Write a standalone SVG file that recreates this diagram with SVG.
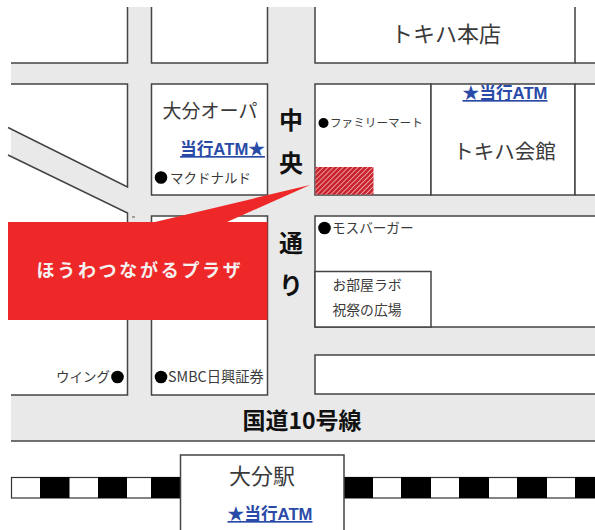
<svg xmlns="http://www.w3.org/2000/svg" width="595" height="530" viewBox="0 0 595 530">
<style>
text{font-family:"Noto Sans CJK JP","Liberation Sans",sans-serif;fill:#3a3a3a}
.b{fill:#fff;stroke:#444;stroke-width:1.5}
.l{fill:none;stroke:#444;stroke-width:1.5}
.w{fill:#fff;stroke:none}
.t{fill:#000}
.road{fill:#111;font-weight:700}
.atm{font-family:"Liberation Sans","Noto Sans CJK JP",sans-serif;fill:#2a4aa8;font-weight:700;font-size:16.700px;text-decoration:underline}
.s{font-size:13.500px}
.dot{fill:#000}
</style>
<rect width="595" height="530" fill="#fff"/>
<g id="roads">
<rect x="11" y="7" width="584" height="434" fill="#e9e9e9"/>
</g>
<g id="block-nw">
<rect class="w" x="0" y="7" width="127.500" height="56"/>
<path class="l" d="M127.500 7V63H11"/>
</g>
<g id="block-n">
<path class="b" d="M151.500 7V63H267.500V7"/>
</g>
<g id="block-honten">
<path class="b" d="M315 7V63H575V7"/>
<path class="w" d="M576 7H595V63H576Z"/>
<path class="l" d="M575 63H595"/>
<text x="446" y="41.500" font-size="22" text-anchor="middle">トキハ本店</text>
</g>
<g id="block-w">
<path class="w" d="M0 84H127.500V187L8 127.500H0Z"/>
<path class="l" d="M11 84H127.500V187L8 127.500"/>
</g>
<g id="block-sw">
<path class="w" d="M8 155L127.500 213V395H11V155Z"/>
<path class="l" d="M8 155L127.500 213V395H11"/>
<text x="110" y="381.500" class="s" text-anchor="end">ウイング</text>
<circle class="dot" cx="117.500" cy="377" r="6.300"/>
</g>
<g id="block-opa">
<rect class="b" x="151.500" y="84" width="116" height="111"/>
<text x="210" y="118" font-size="19" text-anchor="middle">大分オーパ</text>
<text class="atm" x="180" y="155">当行ATM★</text>
<circle class="dot" cx="161" cy="177.500" r="6.300"/>
<text x="170" y="182.500" class="s">マクドナルド</text>
</g>
<g id="block-smbc">
<rect class="b" x="151.500" y="216" width="116" height="179"/>
<circle class="dot" cx="161" cy="377" r="6.300"/>
<text x="168" y="382" font-size="14.300">SMBC日興証券</text>
</g>
<defs>
<pattern id="hatch" width="3.500" height="3.500" patternUnits="userSpaceOnUse" patternTransform="rotate(-45)">
<rect width="3.500" height="3.500" fill="#c8232f"/>
<rect width="3.500" height="0.800" fill="#f3b5b5"/>
</pattern>
</defs>
<g id="block-family">
<rect class="b" x="315" y="84" width="116" height="111"/>
<path d="M315.500 167H373.500V194.500H315.500Z" fill="url(#hatch)"/>
<circle class="dot" cx="323.500" cy="123" r="5"/>
<text x="330" y="127" font-size="11.600">ファミリーマート</text>
</g>
<g id="block-kaikan">
<rect class="b" x="431" y="84" width="144" height="111"/>
<text class="atm" x="505" y="99" text-anchor="middle">★当行ATM</text>
<text x="504.500" y="159" font-size="20.500" text-anchor="middle">トキハ会館</text>
</g>
<g id="block-e">
<path class="w" d="M575 84H595V195H575Z"/>
<path class="l" d="M575 84H595M575 84V195M575 195H595"/>
</g>
<g id="block-mos">
<path class="b" d="M595 216H315V327H595"/>
<circle class="dot" cx="324.500" cy="228" r="6.300"/>
<text x="332" y="232.500" font-size="13.600">モスバーガー</text>
</g>
<g id="block-labo">
<rect class="b" x="315" y="271.500" width="116" height="55.500"/>
<text x="367" y="290" font-size="13.800" text-anchor="middle">お部屋ラボ</text>
<text x="367" y="315" font-size="13.800" text-anchor="middle">祝祭の広場</text>
</g>
<g id="block-se">
<path class="b" d="M595 355H315V394H595"/>
</g>
<g id="road-labels">
<text class="road" x="291" y="129" font-size="24" text-anchor="middle">中</text>
<text class="road" x="291" y="172" font-size="24" text-anchor="middle">央</text>
<text class="road" x="291" y="252" font-size="24" text-anchor="middle">通</text>
<text class="road" x="291" y="294" font-size="24" text-anchor="middle">り</text>
<text class="road" x="302" y="429" font-size="23" text-anchor="middle">国道10号線</text>
</g>
<path class="l" d="M11 441H595"/>
<g id="railway">
<rect x="11.500" y="477.500" width="583.500" height="20.500" fill="#fff" stroke="#333" stroke-width="1.200"/>
<path class="t" d="M40 477h29.500v21H40ZM98 477h29v21H98ZM151 477h30v21h-30ZM344 477h29v21h-29ZM401 477h30v21h-30ZM459 477h30v21h-30ZM517 477h30v21h-30ZM575 477h20v21h-20Z"/>
</g>
<g id="station">
<path class="b" d="M180.500 530V455H344V530"/>
<text x="262" y="484" font-size="22" text-anchor="middle">大分駅</text>
<text class="atm" x="270" y="520" text-anchor="middle">★当行ATM</text>
</g>
<g id="callout">
<path d="M8 222H155L310 185L227 222H267.500V320H8Z" fill="#ee2828"/>
<text x="140" y="277" font-size="18" font-weight="700" text-anchor="middle" style="fill:#f4f0f0" letter-spacing="2.700">ほうわつながるプラザ</text>
</g>
<path d="M132 217h3" stroke="#555" fill="none"/>
</svg>
